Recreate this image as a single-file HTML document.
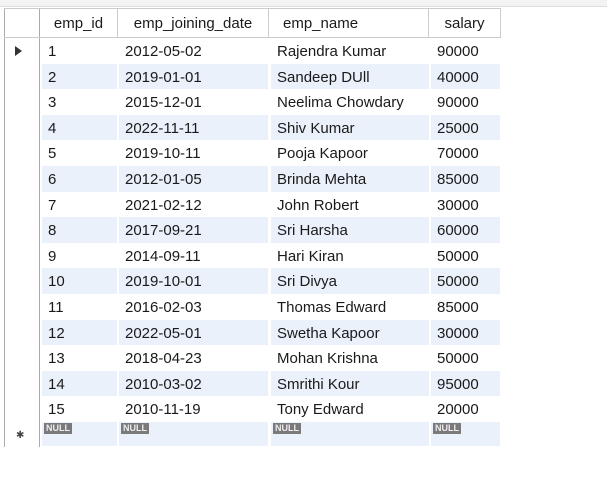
<!DOCTYPE html>
<html><head><meta charset="utf-8"><style>
body{margin:0;width:607px;height:478px;background:#fff;position:relative;overflow:hidden;font-family:"Liberation Sans","DejaVu Sans",sans-serif;font-size:15px;color:#1a1a1a}
#topbar{position:absolute;left:0;top:0;width:607px;height:6px;background:#f3f3f3;border-bottom:1px solid #ddd}
#rowhdr{position:absolute;left:4px;top:8px;width:36px;height:439px;border-left:1px solid #aaa;border-right:1px solid #aaa;box-sizing:border-box}
#hdr{position:absolute;left:4px;top:8px;width:497px;height:30px;border-top:1px solid #ccc;border-bottom:1px solid #ccc;box-sizing:border-box}
.h{position:absolute;top:8px;height:30px;line-height:31px;border-right:1px solid #ccc;box-sizing:border-box;text-align:center}
.row{position:absolute;left:41px;height:25.6px;width:460px}
.c{position:absolute;top:0;height:100%;line-height:27px;padding-left:2px;box-sizing:border-box}
.alt .c{background:#eaf1fb}
.null{display:inline-block;background:#7a7a7a;color:#eee;font-size:9px;font-weight:bold;line-height:11px;padding:0 2px;vertical-align:top;margin-top:1px}
.arrow{position:absolute;left:15px;top:46px;width:0;height:0;border-left:7px solid #333;border-top:5px solid transparent;border-bottom:5px solid transparent}
.star{position:absolute;left:16px;top:430px;font-size:10px;color:#444}
</style></head><body>
<div id="topbar"></div>
<div id="rowhdr"></div>
<div id="hdr"></div>
<div class="h" style="left:40px;width:78px">emp_id</div>
<div class="h" style="left:118px;width:151px">emp_joining_date</div>
<div class="h" style="left:269px;width:160px;text-align:left;padding-left:14px">emp_name</div>
<div class="h" style="left:429px;width:72px">salary</div>
<div class="arrow"></div>
<div id="rows"></div>
<div class="star">✱</div>
<script>
const ids=[1,2,3,4,5,6,7,8,9,10,11,12,13,14,15];
const dates=["2012-05-02","2019-01-01","2015-12-01","2022-11-11","2019-10-11","2012-01-05","2021-02-12","2017-09-21","2014-09-11","2019-10-01","2016-02-03","2022-05-01","2018-04-23","2010-03-02","2010-11-19"];
const names=["Rajendra Kumar","Sandeep DUll","Neelima Chowdary","Shiv Kumar","Pooja Kapoor","Brinda Mehta","John Robert","Sri Harsha","Hari Kiran","Sri Divya","Thomas Edward","Swetha Kapoor","Mohan Krishna","Smrithi Kour","Tony Edward"];
const salaries=[90000,40000,90000,25000,70000,85000,30000,60000,50000,50000,85000,30000,50000,95000,20000];
const cols=[[0,75],[77,149],[229,158],[389,69]];
const wrap=document.getElementById('rows');
for(let i=0;i<=ids.length;i++){
  const r=document.createElement('div');
  r.className='row'+(i%2===1?' alt':'');
  
  
  r.style.top=(38+i*25.6)+'px';
  if(i===ids.length) r.style.height='24px';
  const vals=i<ids.length?[ids[i],dates[i],names[i],salaries[i]]:null;
  for(let j=0;j<4;j++){
    const c=document.createElement('div');
    c.className='c';
    
    
    c.style.left=(cols[j][0]+1)+'px';c.style.width=cols[j][1]+'px';
    if(vals){c.textContent=vals[j];c.style.paddingLeft='6px';}
    else{c.innerHTML='<span class="null">NULL</span>';}
    r.appendChild(c);
  }
  wrap.appendChild(r);
}
</script>
</body></html>
